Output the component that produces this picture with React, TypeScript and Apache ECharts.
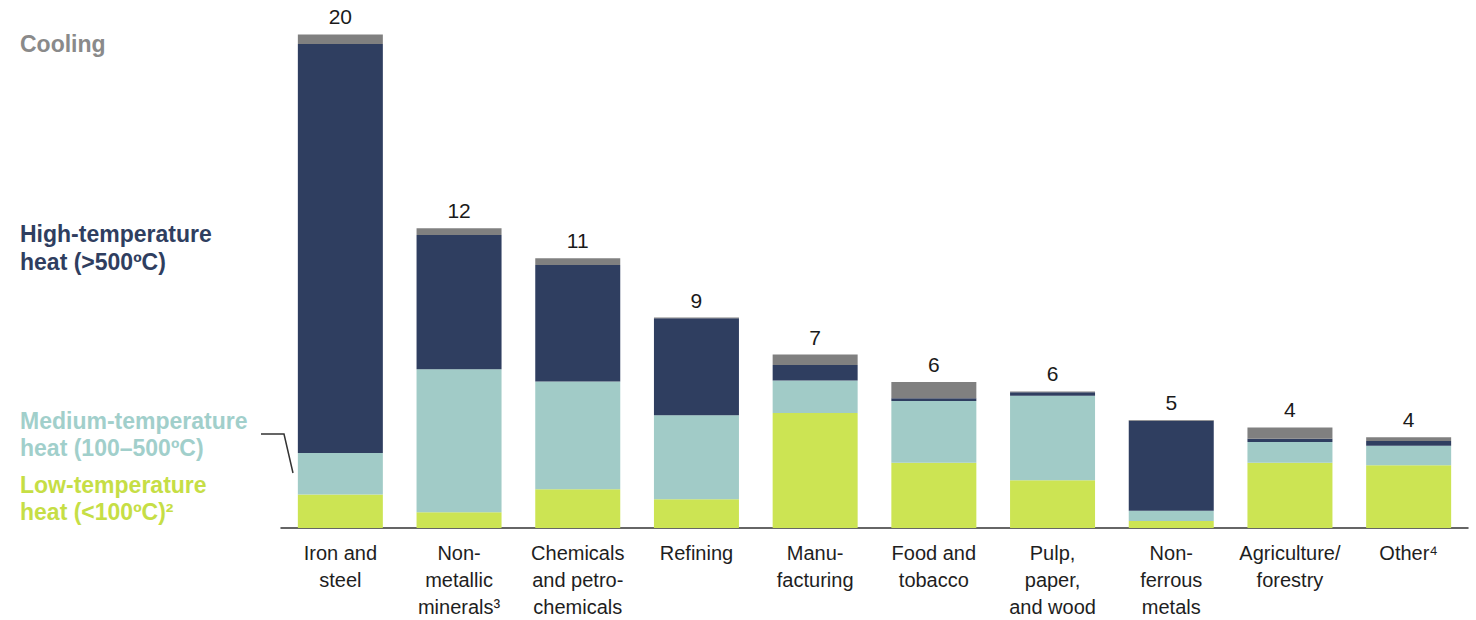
import React, { useEffect, useRef } from "react";
import * as echarts from "echarts";

const categories = [
  "Iron and\nsteel",
  "Non-\nmetallic\nminerals³",
  "Chemicals\nand petro-\nchemicals",
  "Refining",
  "Manu-\nfacturing",
  "Food and\ntobacco",
  "Pulp,\npaper,\nand wood",
  "Non-\nferrous\nmetals",
  "Agriculture/\nforestry",
  "Other⁴",
];

const lowTemp = [1.36, 0.64, 1.57, 1.16, 4.66, 2.64, 1.93, 0.28, 2.64, 2.54];
const mediumTemp = [1.68, 5.79, 4.36, 3.4, 1.31, 2.5, 3.42, 0.42, 0.84, 0.79];
const highTemp = [16.56, 5.43, 4.72, 3.93, 0.63, 0.11, 0.15, 3.64, 0.13, 0.19];
const cooling = [0.38, 0.28, 0.27, 0.03, 0.42, 0.66, 0.03, 0.03, 0.46, 0.15];
const totalLabels = [20, 12, 11, 9, 7, 6, 6, 5, 4, 4];

const seriesNames = [
  "Low-temperature heat (<100ºC)",
  "Medium-temperature heat (100–500ºC)",
  "High-temperature heat (>500ºC)",
  "Cooling",
];

const colors = {
  low: "#cce453",
  medium: "#a1cbc7",
  high: "#2f3e60",
  cooling: "#808080",
};

const FONT = "'Liberation Sans', Arial, Helvetica, sans-serif";

export default function App() {
  const ref = useRef<HTMLDivElement>(null);

  useEffect(() => {
    if (!ref.current) return;
    const chart = echarts.init(ref.current, null, { renderer: "svg" });

    const mkSeries = (name: string, data: number[], color: string, extra: any = {}) => ({
      name,
      type: "bar",
      stack: "total",
      data,
      barWidth: 85,
      itemStyle: { color },
      emphasis: { disabled: true },
      ...extra,
    });

    const legendText = (text: string, top: number, fill: string, lineHeight: number) => ({
      type: "text",
      left: 20,
      top,
      style: {
        text,
        fill,
        font: `bold 23px ${FONT}`,
        lineHeight,
        verticalAlign: "top",
      },
    });

    chart.setOption({
      animation: false,
      textStyle: { fontFamily: FONT },
      grid: { left: 281, right: 8, top: 34, bottom: 92, containLabel: false },
      xAxis: {
        type: "category",
        data: categories,
        axisTick: { show: false },
        axisLine: { lineStyle: { color: "#333333", width: 1.5 } },
        axisLabel: {
          interval: 0,
          hideOverlap: false,
          fontSize: 20,
          lineHeight: 27,
          color: "#1e1e1e",
          margin: 11,
          fontFamily: FONT,
          align: "center",
        },
      },
      yAxis: {
        type: "value",
        min: 0,
        max: 20,
        show: false,
        splitLine: { show: false },
      },
      series: [
        mkSeries(seriesNames[0], lowTemp, colors.low),
        mkSeries(seriesNames[1], mediumTemp, colors.medium),
        mkSeries(seriesNames[2], highTemp, colors.high),
        mkSeries(seriesNames[3], cooling, colors.cooling, {
          label: {
            show: true,
            position: "top",
            distance: 7,
            fontSize: 21,
            color: "#1a1a1a",
            fontFamily: FONT,
            formatter: (p: any) => String(totalLabels[p.dataIndex]),
          },
        }),
      ],
      graphic: [
        legendText("Cooling", 30, "#8a8a8a", 28),
        legendText("High-temperature\nheat (>500ºC)", 220, "#2f3e60", 28),
        legendText("Medium-temperature\nheat (100–500ºC)", 407, "#a1cfcb", 27),
        legendText("Low-temperature\nheat (<100ºC)²", 471, "#c6de45", 27),
        {
          type: "polyline",
          shape: { points: [[261, 434], [284, 434], [293, 473]] },
          style: { stroke: "#333333", lineWidth: 1.5, fill: "none" },
        },
      ],
    });

    return () => chart.dispose();
  }, []);

  return (
    <div
      ref={ref}
      style={{ position: "fixed", left: 0, top: 0, width: 1476, height: 620, background: "#ffffff" }}
    />
  );
}
